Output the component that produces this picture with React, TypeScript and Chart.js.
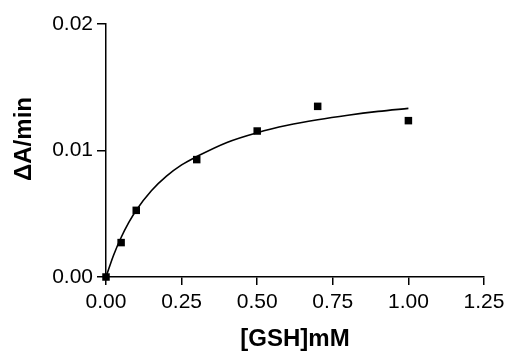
import React, { useEffect, useRef } from "react";
import { Chart, registerables } from "chart.js";

Chart.register(...registerables);

const gshConc = [0, 0.05, 0.1, 0.3, 0.5, 0.7, 1.0];
const rate = [0.0, 0.00272, 0.00527, 0.00928, 0.01154, 0.01349, 0.01236];

const fitX = [0, 0.025, 0.05, 0.075, 0.1, 0.15, 0.2, 0.25, 0.3, 0.4, 0.5, 0.6, 0.7, 0.8, 0.9, 1.0];
const fitY = [0, 0.00172, 0.00312, 0.00429, 0.00528, 0.00682, 0.00797, 0.00886, 0.00952, 0.01064, 0.01141, 0.01199, 0.01243, 0.01279, 0.01309, 0.01333];

const xTicks = [0, 0.25, 0.5, 0.75, 1.0, 1.25];
const yTicks = [0, 0.01, 0.02];

const xTitle = "[GSH]mM";
const yTitle = "ΔA/min";

const FONT = "'Liberation Sans', Arial, sans-serif";

export default function App() {
  const ref = useRef<HTMLCanvasElement | null>(null);
  useEffect(() => {
    if (!ref.current) return;
    const titles = {
      id: "axisTitles",
      afterDraw(chart: any) {
        const ctx = chart.ctx;
        const area = chart.chartArea;
        ctx.save();
        ctx.fillStyle = "#000";
        ctx.font = `bold 24px ${FONT}`;
        ctx.textAlign = "center";
        ctx.textBaseline = "middle";
        ctx.fillText(xTitle, (area.left + area.right) / 2, 339);
        ctx.translate(24, 139);
        ctx.rotate(-Math.PI / 2);
        ctx.fillText(yTitle, 0, 0);
        ctx.restore();
      },
    };
    const chart = new Chart(ref.current, {
      type: "scatter",
      data: {
        datasets: [
          {
            label: "fit",
            data: fitX.map((x, i) => ({ x, y: fitY[i] })),
            showLine: true,
            borderColor: "#000",
            borderWidth: 1.6,
            pointRadius: 0,
            cubicInterpolationMode: "monotone",
            fill: false,
          },
          {
            label: "data",
            data: gshConc.map((x, i) => ({ x, y: rate[i] })),
            pointStyle: "rect",
            pointRadius: 5.3,
            backgroundColor: "#000",
            borderColor: "#000",
            borderWidth: 0,
            showLine: false,
            clip: false,
          },
        ],
      },
      options: {
        responsive: false,
        animation: false,
        layout: { padding: { left: 0, top: 24, right: 21, bottom: 0 } },
        plugins: { legend: { display: false }, tooltip: { enabled: false } },
        scales: {
          x: {
            type: "linear",
            min: 0,
            max: 1.25,
            afterBuildTicks: (s: any) => {
              s.ticks = xTicks.map((v) => ({ value: v }));
            },
            afterFit: (s: any) => {
              s.height = 74;
              s.paddingLeft = 0;
              s.paddingRight = 0;
            },
            ticks: {
              color: "#000",
              font: { family: FONT, size: 21 },
              padding: 5,
              maxRotation: 0,
              callback: (v: any) => Number(v).toFixed(2),
            },
            grid: { drawOnChartArea: false, tickLength: 8, color: "#000", lineWidth: 1.5 },
            border: { color: "#000", width: 1.5 },
          },
          y: {
            type: "linear",
            min: 0,
            max: 0.02,
            afterBuildTicks: (s: any) => {
              s.ticks = yTicks.map((v) => ({ value: v }));
            },
            afterFit: (s: any) => {
              s.width = 106;
              s.paddingTop = 0;
              s.paddingBottom = 0;
            },
            ticks: {
              color: "#000",
              font: { family: FONT, size: 21 },
              padding: 4,
              callback: (v: any) => Number(v).toFixed(2),
            },
            grid: { drawOnChartArea: false, tickLength: 9, color: "#000", lineWidth: 1.5 },
            border: { color: "#000", width: 1.5 },
          },
        },
      },
      plugins: [titles],
    });
    return () => chart.destroy();
  }, []);
  return (
    <div style={{ position: "absolute", left: 0, top: 0, width: 505, height: 351, background: "#fff" }}>
      <canvas ref={ref} width={505} height={351} style={{ width: 505, height: 351 }} />
    </div>
  );
}
